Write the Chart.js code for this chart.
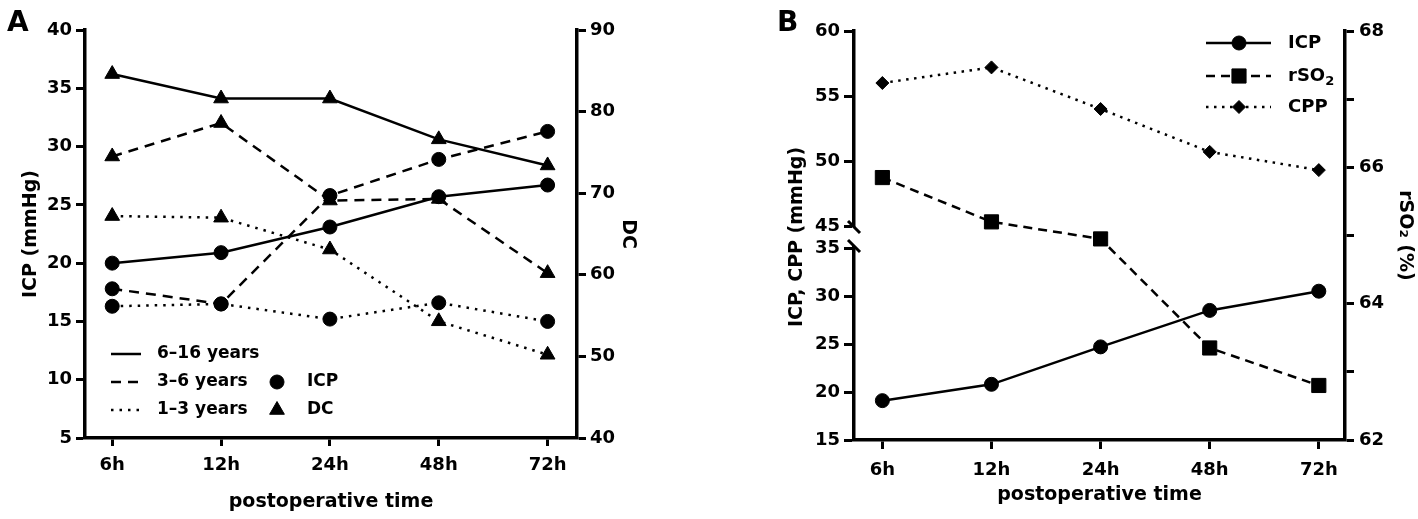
<!DOCTYPE html>
<html><head><meta charset="utf-8">
<script src="https://cdn.jsdelivr.net/npm/chart.js@4.4.1/dist/chart.umd.min.js"></script>
<style>
html,body{margin:0;padding:0;background:#fff;overflow:hidden;}
#wrap{position:relative;width:1418px;height:519px;background:#fff;}
canvas{position:absolute;top:0;}
#ca{left:0;} #cb{left:700px;}
</style></head><body>
<div id="wrap"><canvas id="ca" width="700" height="519"></canvas><canvas id="cb" width="718" height="519"></canvas></div>
<script>
// ---------- data ----------
const timeLabels = ['6h', '12h', '24h', '48h', '72h'];
const ageGroups = ['6–16 years', '3–6 years', '1–3 years'];
// Panel A: ICP (mmHg), left axis
const icpA_6_16 = [20.0, 20.9, 23.1, 25.7, 26.7];
const icpA_3_6  = [17.8, 16.5, 25.8, 28.9, 31.3];
const icpA_1_3  = [16.3, 16.5, 15.2, 16.6, 15.0];
// Panel A: DC, right axis
const dcA_6_16 = [84.6, 81.6, 81.6, 76.6, 73.4];
const dcA_3_6  = [74.5, 78.6, 69.1, 69.3, 60.2];
const dcA_1_3  = [67.2, 67.0, 63.1, 54.3, 50.2];
// Panel B
const icpB  = [19.1, 20.8, 24.7, 28.5, 30.5];
const rso2B = [65.85, 65.2, 64.95, 63.35, 62.8];
const cppB  = [56.0, 57.2, 54.0, 50.7, 49.3];
// tick values
const ticksA_icp = [5, 10, 15, 20, 25, 30, 35, 40];
const ticksA_dc  = [40, 50, 60, 70, 80, 90];
const ticksB_high = [45, 50, 55, 60];
const ticksB_low  = [15, 20, 25, 30, 35];
const ticksB_rso2 = [62, 63, 64, 65, 66, 67, 68];
const ticksB_rso2Labelled = [62, 64, 66, 68];

// ---------- helpers ----------
const FONT = "'DejaVu Sans'";
Chart.defaults.font.family = FONT;
Chart.defaults.font.weight = 'bold';
Chart.defaults.color = '#000';
const pts = arr => arr.map((v, i) => ({x: i, y: v}));
const DASH = {solid: [], dashed: [10, 7], dotted: [2.5, 6]};
const DASH_B = {solid: [], dashed: [9, 6], dotted: [2.5, 5.5]};

function ds(label, data, axis, dash, style, r) {
  return {
    label, data: pts(data), yAxisID: axis,
    borderColor: '#000', backgroundColor: '#000', borderWidth: 2.5,
    borderDash: dash, borderCapStyle: 'butt', tension: 0,
    pointStyle: style, pointRadius: r, pointHoverRadius: r,
    pointBackgroundColor: '#000', pointBorderColor: '#000', pointBorderWidth: 1,
    fill: false, clip: false
  };
}
function fixTicks(arr) { return s => { s.ticks = arr.map(v => ({value: v})); }; }
function xScale(min, max, pad, titlePadB, h, tl) {
  return {
    type: 'linear', position: 'bottom', min, max,
    afterBuildTicks: fixTicks(timeLabels.map((_, i) => i)),
    afterFit: s => { s.height = h; },
    ticks: {callback: v => timeLabels[v], font: {size: 18, weight: 'bold'}, padding: pad, color: '#000', maxRotation: 0},
    grid: {drawOnChartArea: false, drawTicks: true, tickLength: tl, tickWidth: 3, tickColor: '#000'},
    border: {display: true, width: 3.5, color: '#000'},
    title: {display: true, text: 'postoperative time', font: {size: 19, weight: 'bold'}, color: '#000', padding: {top: 0, bottom: titlePadB}}
  };
}
function yScale(pos, min, max, ticks, w, title, titlePad, tl, pad, extra) {
  return Object.assign({
    type: 'linear', position: pos, min, max,
    afterBuildTicks: fixTicks(ticks),
    afterFit: s => { s.width = w; },
    ticks: {font: {size: 18, weight: 'bold'}, padding: pad, color: '#000'},
    grid: {drawOnChartArea: false, drawTicks: true, tickLength: tl, tickWidth: 3, tickColor: '#000'},
    border: {display: true, width: 3.5, color: '#000'},
    title: {display: !!title, text: title, font: {size: 19, weight: 'bold'}, color: '#000', padding: {top: titlePad, bottom: 0}}
  }, extra || {});
}
function line(ctx, x1, x2, y, dash) {
  ctx.save(); ctx.setLineDash(dash); ctx.lineWidth = 2.5; ctx.strokeStyle = '#000'; ctx.lineCap = 'butt';
  ctx.beginPath(); ctx.moveTo(x1, y); ctx.lineTo(x2, y); ctx.stroke(); ctx.restore();
}
function marker(ctx, style, r, x, y) {
  ctx.save(); ctx.fillStyle = '#000'; ctx.strokeStyle = '#000'; ctx.setLineDash([]);
  Chart.helpers.drawPoint(ctx, {pointStyle: style, radius: r, borderWidth: 1, rotation: 0}, x, y);
  ctx.restore();
}
function text(ctx, s, x, y, size) {
  ctx.save(); ctx.font = 'bold ' + size + 'px ' + FONT; ctx.fillStyle = '#000';
  ctx.textBaseline = 'middle'; ctx.textAlign = 'left'; ctx.fillText(s, x, y); ctx.restore();
}
function letter(ctx, s, x, y) {
  ctx.save(); ctx.font = 'bold 28px ' + FONT; ctx.fillStyle = '#000';
  ctx.textBaseline = 'alphabetic'; ctx.textAlign = 'left'; ctx.fillText(s, x, y); ctx.restore();
}

// ---------- panel A ----------
const styleNames = ['solid', 'dashed', 'dotted'];
const icpA = [icpA_6_16, icpA_3_6, icpA_1_3];
const dcA = [dcA_6_16, dcA_3_6, dcA_1_3];
const datasetsA = [];
ageGroups.forEach((g, i) => {
  datasetsA.push(ds(g + ' ICP', icpA[i], 'y', DASH[styleNames[i]], 'circle', 7));
  datasetsA.push(ds(g + ' DC', dcA[i], 'y2', DASH[styleNames[i]], 'triangle', 8.5));
});

const panelAPlugin = {
  id: 'panelA',
  afterDraw(chart) {
    const ctx = chart.ctx;
    letter(ctx, 'A', 7, 31);
    const rows = [354, 382, 410];
    ageGroups.forEach((g, i) => {
      line(ctx, 111, 141, rows[i], DASH[styleNames[i]]);
      text(ctx, g, 157, rows[i], 17);
    });
    marker(ctx, 'circle', 7, 277, rows[1]);
    text(ctx, 'ICP', 307, rows[1], 17);
    marker(ctx, 'triangle', 8.5, 277, rows[2]);
    text(ctx, 'DC', 307, rows[2], 17);
  }
};

new Chart(document.getElementById('ca'), {
  type: 'line',
  data: {datasets: datasetsA},
  options: {
    responsive: false, animation: false, events: [],
    layout: {padding: {left: 0, right: 53, top: 30, bottom: 0}},
    plugins: {legend: {display: false}, tooltip: {enabled: false}},
    scales: {
      x: xScale(-0.25, 4.27, 9, 5.6, 81, 8),
      y: yScale('left', 5, 40, ticksA_icp, 85, 'ICP (mmHg)', 19.6, 9, 4),
      y2: yScale('right', 40, 90, ticksA_dc, 70, 'DC', 7.6, 9, 4)
    }
  },
  plugins: [panelAPlugin]
});

// ---------- panel B ----------
const datasetsB = [
  ds('ICP', icpB, 'yLow', DASH_B.solid, 'circle', 7),
  ds('rSO₂', rso2B, 'yR', DASH_B.dashed, 'rect', 10),
  ds('CPP', cppB, 'yHigh', DASH_B.dotted, 'rectRot', 6.5)
];

const panelBPlugin = {
  id: 'panelB',
  afterDraw(chart) {
    const ctx = chart.ctx;
    letter(ctx, 'B', 77, 31);
    // axis break marks
    const xL = chart.chartArea.left;
    const hi = chart.scales.yHigh, lo = chart.scales.yLow;
    ctx.save(); ctx.strokeStyle = '#000'; ctx.lineWidth = 3; ctx.setLineDash([]);
    [[hi.bottom + 1], [lo.top - 2]].forEach(([y]) => {
      ctx.beginPath(); ctx.moveTo(xL - 6, y - 6); ctx.lineTo(xL + 6, y + 6); ctx.stroke();
    });
    ctx.restore();
    // legend
    const rows = [43, 76, 107];
    const x1 = 506, x2 = 571, xm = 539, xt = 588;
    line(ctx, x1, x2, rows[0], DASH_B.solid); marker(ctx, 'circle', 7, xm, rows[0]);
    text(ctx, 'ICP', xt, rows[0], 18);
    line(ctx, x1, x2, rows[1], DASH_B.dashed); marker(ctx, 'rect', 10, xm, rows[1]);
    text(ctx, 'rSO', xt, rows[1], 18);
    ctx.save(); ctx.font = 'bold 18px ' + FONT; const w = ctx.measureText('rSO').width; ctx.restore();
    text(ctx, '2', xt + w, rows[1] + 6, 13);
    line(ctx, x1, x2, rows[2], DASH_B.dotted); marker(ctx, 'rectRot', 6.5, xm, rows[2]);
    text(ctx, 'CPP', xt, rows[2], 18);
  }
};

new Chart(document.getElementById('cb'), {
  type: 'line',
  data: {datasets: datasetsB},
  options: {
    responsive: false, animation: false, events: [],
    layout: {padding: {left: 84, right: 0, top: 31, bottom: 0}},
    plugins: {legend: {display: false}, tooltip: {enabled: false}},
    scales: {
      x: xScale(-0.26, 4.24, 11, 12.6, 79, 9),
      yHigh: yScale('left', 45, 60, ticksB_high, 70, '', 0, 10, 4, {stack: 'L', stackWeight: 195, weight: 3}),
      yGap: {
        type: 'linear', position: 'left', stack: 'L', stackWeight: 22, weight: 2, min: 0, max: 1,
        afterFit: s => { s.width = 70; },
        ticks: {display: false}, grid: {display: false}, border: {display: false},
        title: {display: true, text: 'ICP, CPP (mmHg)', font: {size: 19, weight: 'bold'}, color: '#000', padding: {top: 2, bottom: 0}}
      },
      yLow: yScale('left', 15, 35, ticksB_low, 70, '', 0, 10, 4, {stack: 'L', stackWeight: 192, weight: 1}),
      yR: yScale('right', 62, 68, ticksB_rso2, 73, 'rSO₂ (%)', 2, 9, 5, {
        ticks: {font: {size: 18, weight: 'bold'}, padding: 5, color: '#000',
                callback: v => ticksB_rso2Labelled.includes(v) ? String(v) : ''}
      }),
    }
  },
  plugins: [panelBPlugin]
});
</script>
</body></html>
